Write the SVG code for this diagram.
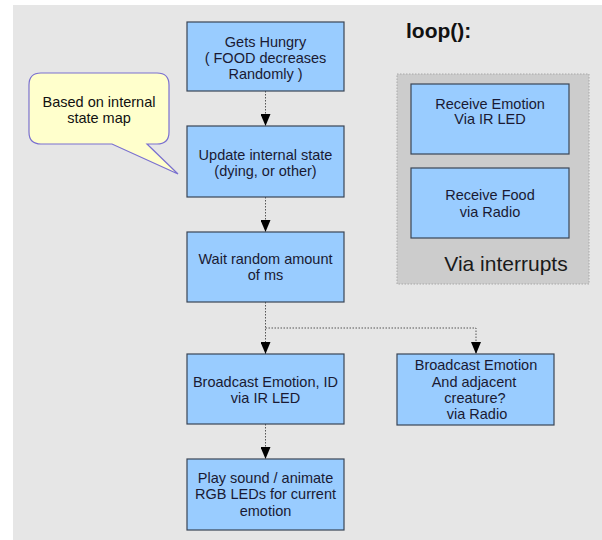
<svg xmlns="http://www.w3.org/2000/svg" width="602" height="540" viewBox="0 0 602 540">
<defs>
<marker id="ah" markerWidth="12" markerHeight="10" refX="12" refY="5" orient="auto" markerUnits="userSpaceOnUse" viewBox="0 0 12 10">
<path d="M0,0 L12,5 L0,10 Z" fill="#000"/>
</marker>
<style>
.box{fill:#99ccff;stroke:#3a4555;stroke-width:1.2}
.t{font-family:"Liberation Sans",Arial,sans-serif;font-size:14.5px;fill:#1a1a33;text-anchor:middle}
.c{fill:none;stroke:#555;stroke-width:1;stroke-dasharray:1.5 1.5}
</style>
</defs>
<rect x="0" y="0" width="602" height="540" fill="#ffffff"/>
<rect x="13" y="5" width="589" height="535" fill="#e6e6e6"/>

<g id="container">
<rect x="397" y="74" width="192" height="210" fill="#cccccc" stroke="#a8a8a8" stroke-dasharray="1.5 1.5"/>
<text x="506" y="271" style="font-family:'Liberation Sans',Arial,sans-serif;font-size:21px;fill:#1a1a1a;text-anchor:middle">Via interrupts</text>
</g>
<g id="title">
<text x="406" y="38" style="font-family:'Liberation Sans',Arial,sans-serif;font-size:21px;font-weight:bold;fill:#111">loop():</text>
</g>

<g id="callout">
<path d="M41,73 H157 Q169,73 169,85 V132 Q169,144 157,144 H147 L178,174 L112,144 H41 Q29,144 29,132 V85 Q29,73 41,73 Z" fill="#ffffcc" stroke="#7a70d0" stroke-width="1.2"/>
<text class="t" x="99" y="107" style="fill:#111">Based on internal</text>
<text class="t" x="99" y="123" style="fill:#111">state map</text>
</g>

<g id="connectors">
<line class="c" x1="265.5" y1="91" x2="265.5" y2="126" marker-end="url(#ah)"/>
<line class="c" x1="265.5" y1="197" x2="265.5" y2="232" marker-end="url(#ah)"/>
<line class="c" x1="265.5" y1="302" x2="265.5" y2="354" marker-end="url(#ah)"/>
<polyline class="c" points="265.5,328 476,328 476,354" marker-end="url(#ah)"/>
<line class="c" x1="265.5" y1="424" x2="265.5" y2="459" marker-end="url(#ah)"/>
</g>

<g id="n1">
<rect class="box" x="187" y="22" width="157" height="69"/>
<text class="t" x="265.5" y="47">Gets Hungry</text>
<text class="t" x="265.5" y="63">( FOOD decreases</text>
<text class="t" x="265.5" y="79">Randomly )</text>
</g>
<g id="n2">
<rect class="box" x="187" y="126" width="157" height="71"/>
<text class="t" x="265.5" y="160">Update internal state</text>
<text class="t" x="265.5" y="176">(dying, or other)</text>
</g>
<g id="n3">
<rect class="box" x="187" y="232" width="157" height="70"/>
<text class="t" x="265.5" y="264">Wait random amount</text>
<text class="t" x="265.5" y="280">of ms</text>
</g>
<g id="n4">
<rect class="box" x="187" y="354" width="157" height="70"/>
<text class="t" x="265.5" y="387">Broadcast Emotion, ID</text>
<text class="t" x="265.5" y="403">via IR LED</text>
</g>
<g id="n5">
<rect class="box" x="187" y="459" width="157" height="71"/>
<text class="t" x="265.5" y="483">Play sound / animate</text>
<text class="t" x="265.5" y="499">RGB LEDs for current</text>
<text class="t" x="265.5" y="516">emotion</text>
</g>
<g id="n6">
<rect class="box" x="397" y="354" width="157" height="71"/>
<text class="t" x="476" y="370">Broadcast Emotion</text>
<text class="t" x="474" y="387">And adjacent</text>
<text class="t" x="475" y="403">creature?</text>
<text class="t" x="477" y="419">via Radio</text>
</g>
<g id="n7">
<rect class="box" x="411" y="84" width="158" height="70"/>
<text class="t" x="490" y="109">Receive Emotion</text>
<text class="t" x="490" y="124">Via IR LED</text>
</g>
<g id="n8">
<rect class="box" x="411" y="168" width="158" height="70"/>
<text class="t" x="490" y="200">Receive Food</text>
<text class="t" x="490" y="217">via Radio</text>
</g>
</svg>
